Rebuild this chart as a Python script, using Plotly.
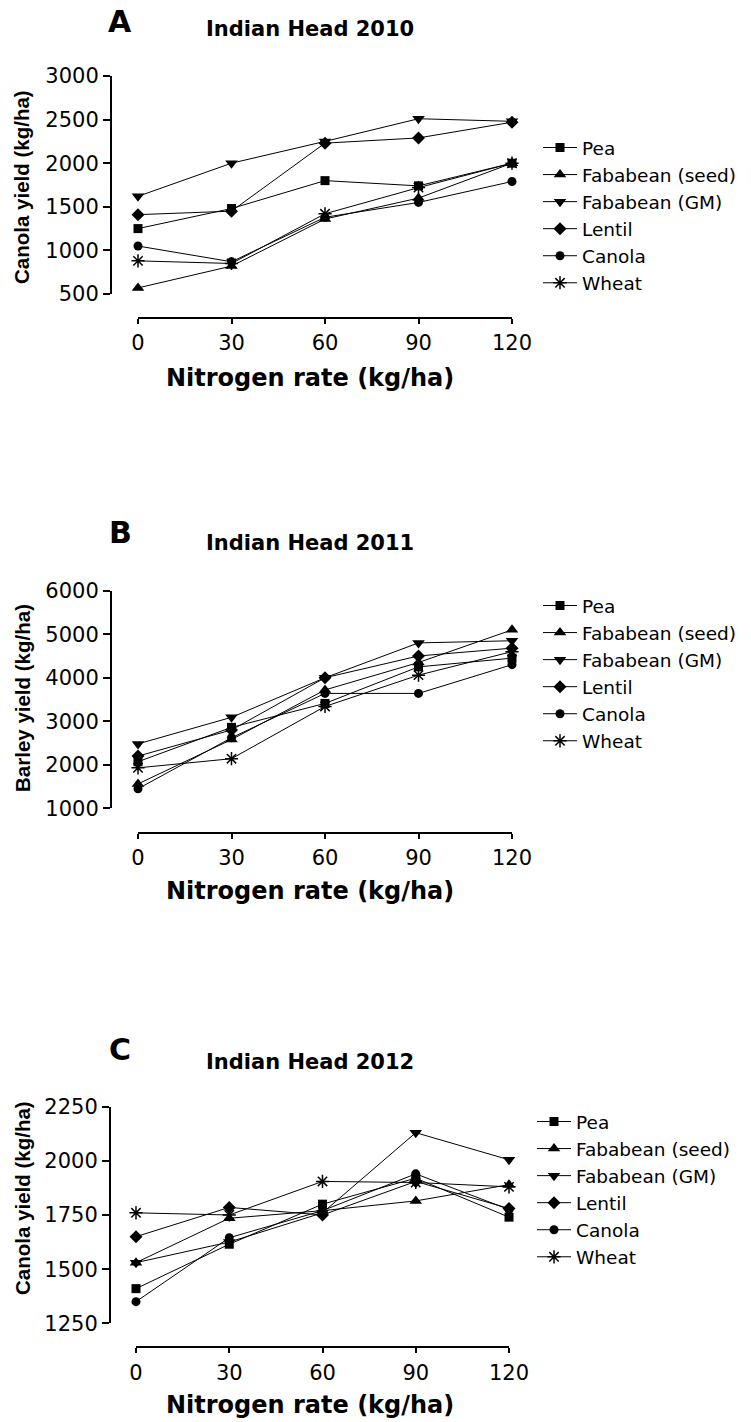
import plotly.graph_objects as go

# ---------------- data ----------------
nitrogen_rate = [0, 30, 60, 90, 120]
series_names = ["Pea", "Fababean (seed)", "Fababean (GM)", "Lentil", "Canola", "Wheat"]

# Panel A: Indian Head 2010, canola yield (kg/ha)
a_pea = [1250, 1480, 1800, 1740, 2000]
a_faba_seed = [570, 820, 1360, 1600, 2000]
a_faba_gm = [1620, 2000, 2250, 2510, 2480]
a_lentil = [1410, 1450, 2230, 2290, 2470]
a_canola = [1050, 870, 1380, 1550, 1790]
a_wheat = [880, 850, 1420, 1720, 2000]

# Panel B: Indian Head 2011, barley yield (kg/ha)
b_pea = [2070, 2860, 3410, 4250, 4450]
b_faba_seed = [1560, 2580, 3720, 4350, 5100]
b_faba_gm = [2480, 3090, 4000, 4800, 4850]
b_lentil = [2200, 2800, 4000, 4500, 4680]
b_canola = [1450, 2620, 3640, 3640, 4300]
b_wheat = [1930, 2140, 3340, 4060, 4600]

# Panel C: Indian Head 2012, canola yield (kg/ha)
c_pea = [1410, 1615, 1800, 1920, 1740]
c_faba_seed = [1530, 1735, 1770, 1815, 1890]
c_faba_gm = [1530, 1625, 1760, 2130, 2005]
c_lentil = [1650, 1785, 1750, 1905, 1780]
c_canola = [1350, 1645, 1770, 1940, 1775]
c_wheat = [1760, 1750, 1905, 1900, 1880]

a_yticks = [500, 1000, 1500, 2000, 2500, 3000]
b_yticks = [1000, 2000, 3000, 4000, 5000, 6000]
c_yticks = [1250, 1500, 1750, 2000, 2250]
x_ticks = [0, 30, 60, 90, 120]

panel_letters = ["A", "B", "C"]
panel_titles = ["Indian Head 2010", "Indian Head 2011", "Indian Head 2012"]
y_titles = ["Canola yield (kg/ha)", "Barley yield (kg/ha)", "Canola yield (kg/ha)"]
x_title = "Nitrogen rate (kg/ha)"

# ---------------- layout helpers ----------------
W, H = 751, 1422


def px(x):
    return x / W


def py(y):
    return 1 - y / H


symbols = ["square", "triangle-up", "triangle-down", "diamond", "circle", "asterisk-open"]
sizes = [9, 11, 11, 10, 9, 11]

panels = [
    dict(data=[a_pea, a_faba_seed, a_faba_gm, a_lentil, a_canola, a_wheat],
         yticks=a_yticks, ytop=76, ybot=294, xl=138, xr=512, yaxis_x=111, xaxis_y=318,
         legend_x=538, legend_top=129, letter_y=21, title_y=28.5, ytitle_y=187,
         xtitle_y=378),
    dict(data=[b_pea, b_faba_seed, b_faba_gm, b_lentil, b_canola, b_wheat],
         yticks=b_yticks, ytop=590.7, ybot=808.3, xl=138, xr=512, yaxis_x=111, xaxis_y=832.7,
         legend_x=538, legend_top=587, letter_y=532, title_y=543, ytitle_y=698,
         xtitle_y=891),
    dict(data=[c_pea, c_faba_seed, c_faba_gm, c_lentil, c_canola, c_wheat],
         yticks=c_yticks, ytop=1106.7, ybot=1323.3, xl=136, xr=509, yaxis_x=110, xaxis_y=1347.3,
         legend_x=532, legend_top=1103, letter_y=1049, title_y=1062, ytitle_y=1198,
         xtitle_y=1405),
]

fig = go.Figure()
layout = dict(
    width=W, height=H,
    margin=dict(l=0, r=0, t=0, b=0, autoexpand=False),
    paper_bgcolor="white", plot_bgcolor="white",
    showlegend=True,
    annotations=[],
)

tick_font = dict(family="DejaVu Sans", size=21, color="black")

for i, p in enumerate(panels):
    n = i + 1
    xa = "x" if n == 1 else f"x{n}"
    ya = "y" if n == 1 else f"y{n}"
    leg = "legend" if n == 1 else f"legend{n}"
    for s, name in enumerate(series_names):
        is_ast = symbols[s] == "asterisk-open"
        fig.add_trace(go.Scatter(
            x=nitrogen_rate, y=p["data"][s], name=name,
            mode="lines+markers", xaxis=xa, yaxis=ya, legend=leg,
            cliponaxis=False,
            line=dict(color="black", width=1),
            marker=dict(symbol=symbols[s], size=sizes[s], color="black",
                        line=dict(color="black", width=1.5 if is_ast else 0)),
        ))
    yt = p["yticks"]
    layout["xaxis" if n == 1 else f"xaxis{n}"] = dict(
        domain=[px(p["xl"]), px(p["xr"])], range=[0, 120],
        anchor="free", position=py(p["xaxis_y"]),
        tickvals=x_ticks, ticktext=[str(v) for v in x_ticks],
        showline=True, linecolor="black", linewidth=2,
        ticks="outside", ticklen=5, tickwidth=2, tickcolor="black",
        ticklabelstandoff=1,
        showgrid=False, zeroline=False, tickfont=tick_font, fixedrange=True,
    )
    layout["yaxis" if n == 1 else f"yaxis{n}"] = dict(
        domain=[py(p["ybot"]), py(p["ytop"])], range=[yt[0], yt[-1]],
        anchor="free", position=px(p["yaxis_x"]),
        tickvals=yt, ticktext=[str(v) for v in yt],
        showline=True, linecolor="black", linewidth=2,
        ticks="outside", ticklen=7, tickwidth=2, tickcolor="black",
        showgrid=False, zeroline=False, tickfont=tick_font, fixedrange=True,
    )
    layout[leg] = dict(
        x=px(p["legend_x"]), y=py(p["legend_top"]), xanchor="left", yanchor="top",
        bgcolor="rgba(0,0,0,0)", borderwidth=0, itemwidth=34,
        font=dict(family="DejaVu Sans", size=18.5, color="black"),
        tracegroupgap=0,
    )
    # panel letter
    layout["annotations"].append(dict(
        text=panel_letters[i], x=px(120), y=py(p["letter_y"]), xref="paper", yref="paper",
        xanchor="center", yanchor="middle", showarrow=False,
        font=dict(family="DejaVu Sans", size=30, color="black", weight="bold"),
    ))
    # panel title
    layout["annotations"].append(dict(
        text=panel_titles[i], x=px(310), y=py(p["title_y"]), xref="paper", yref="paper",
        xanchor="center", yanchor="middle", showarrow=False,
        font=dict(family="DejaVu Sans", size=21, color="black", weight="bold"),
    ))
    # y title
    layout["annotations"].append(dict(
        text=y_titles[i], x=px(22), y=py(p["ytitle_y"]), xref="paper", yref="paper",
        xanchor="center", yanchor="middle", showarrow=False, textangle=-90,
        font=dict(family="Liberation Sans", size=20.5, color="black", weight="bold"),
    ))
    # x title
    layout["annotations"].append(dict(
        text=x_title, x=px(310), y=py(p["xtitle_y"]), xref="paper", yref="paper",
        xanchor="center", yanchor="middle", showarrow=False,
        font=dict(family="DejaVu Sans", size=24, color="black", weight="bold"),
    ))

fig.update_layout(**layout)
fig.write_html("out.html")
